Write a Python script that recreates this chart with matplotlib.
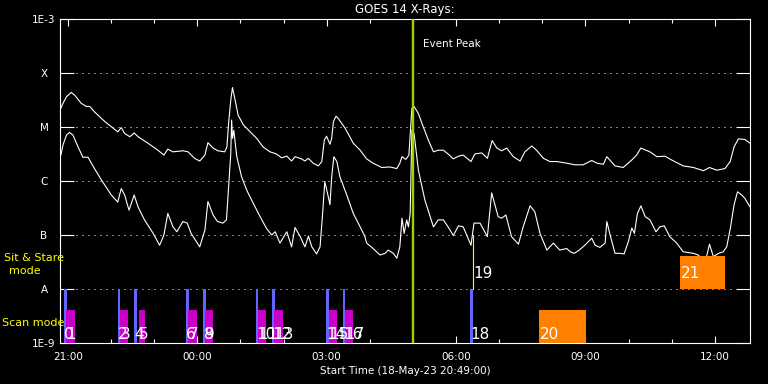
import numpy as np
import matplotlib
matplotlib.use("Agg")
import matplotlib.pyplot as plt
from matplotlib.ticker import FixedLocator, NullLocator
import matplotlib.transforms as mtransforms

# -----------------------------
# data (time = hours after 18-May-23 20:49:00, flux as log10 W/m^2)
# -----------------------------
long_t = [0.02, 0.07, 0.15, 0.26, 0.34, 0.49, 0.61, 0.69, 0.80, 1.04, 1.23, 1.34,
          1.42, 1.50, 1.62, 1.72, 1.81, 2.04, 2.27, 2.41, 2.50, 2.62, 2.85, 2.97,
          3.12, 3.24, 3.36, 3.43, 3.55, 3.66, 3.82, 3.87, 3.91, 3.96, 4.00, 4.06,
          4.13, 4.25, 4.41, 4.56, 4.71, 4.87, 5.02, 5.14, 5.26, 5.37, 5.45, 5.60,
          5.68, 5.76, 5.87, 5.99, 6.07, 6.13, 6.18, 6.26, 6.30, 6.34, 6.40, 6.45,
          6.61, 6.80, 6.96, 7.11, 7.26, 7.46, 7.65, 7.81, 7.88, 7.93, 8.02, 8.09,
          8.16, 8.21, 8.31, 8.42, 8.54, 8.66, 8.77, 8.89, 9.00, 9.12, 9.24, 9.35,
          9.53, 9.62, 9.78, 9.91, 10.02, 10.13, 10.24, 10.36, 10.51, 10.67, 10.78,
          10.94, 11.05, 11.21, 11.36, 11.52, 11.75, 11.94, 12.13, 12.33, 12.45,
          12.60, 12.68, 12.87, 13.06, 13.26, 13.37, 13.47, 13.68, 13.84, 14.03,
          14.18, 14.45, 14.69, 14.92, 15.06, 15.23, 15.42, 15.54, 15.63, 15.73,
          15.88, 16.00]
long_logf = [-4.65, -4.56, -4.44, -4.36, -4.41, -4.56, -4.62, -4.62, -4.72, -4.90,
             -5.02, -5.09, -5.01, -5.12, -5.18, -5.11, -5.18, -5.30, -5.43, -5.52,
             -5.41, -5.46, -5.44, -5.46, -5.58, -5.63, -5.52, -5.29, -5.39, -5.44,
             -5.46, -5.37, -4.93, -4.50, -4.27, -4.50, -4.78, -4.96, -5.09, -5.21,
             -5.37, -5.46, -5.50, -5.57, -5.54, -5.63, -5.55, -5.59, -5.63, -5.58,
             -5.67, -5.72, -5.64, -5.24, -5.17, -5.32, -5.21, -4.90, -4.80, -4.84,
             -5.02, -5.30, -5.43, -5.59, -5.67, -5.75, -5.74, -5.77, -5.67, -5.55,
             -5.60, -5.52, -4.65, -4.62, -4.75, -4.99, -5.24, -5.46, -5.43, -5.43,
             -5.50, -5.59, -5.54, -5.52, -5.64, -5.50, -5.48, -5.58, -5.25, -5.39,
             -5.44, -5.39, -5.55, -5.63, -5.46, -5.35, -5.43, -5.58, -5.64, -5.64,
             -5.67, -5.70, -5.70, -5.62, -5.67, -5.69, -5.55, -5.72, -5.75, -5.61,
             -5.52, -5.39, -5.46, -5.55, -5.54, -5.61, -5.72, -5.75, -5.81, -5.75,
             -5.80, -5.77, -5.64, -5.37, -5.22, -5.23, -5.30]

short_t = [0.02, 0.07, 0.15, 0.22, 0.30, 0.42, 0.53, 0.65, 0.80, 0.96, 1.19, 1.34,
           1.42, 1.50, 1.60, 1.72, 1.81, 1.96, 2.16, 2.31, 2.41, 2.50, 2.62, 2.71,
           2.85, 2.95, 3.04, 3.24, 3.36, 3.43, 3.55, 3.65, 3.78, 3.86, 3.90, 3.96,
           3.98, 4.00, 4.03, 4.10, 4.21, 4.33, 4.48, 4.64, 4.79, 4.91, 4.99, 5.10,
           5.26, 5.37, 5.45, 5.57, 5.68, 5.76, 5.84, 5.95, 6.03, 6.09, 6.14, 6.22,
           6.26, 6.30, 6.35, 6.42, 6.49, 6.65, 6.80, 6.96, 7.07, 7.11, 7.26, 7.42,
           7.54, 7.61, 7.73, 7.81, 7.88, 7.93, 7.98, 8.04, 8.08, 8.12, 8.16, 8.21,
           8.31, 8.46, 8.66, 8.77, 8.89, 9.00, 9.12, 9.24, 9.35, 9.53, 9.60, 9.74,
           9.91, 10.01, 10.16, 10.24, 10.34, 10.47, 10.63, 10.74, 10.90, 11.01,
           11.13, 11.29, 11.44, 11.59, 11.75, 11.83, 11.92, 12.04, 12.17, 12.33,
           12.41, 12.52, 12.64, 12.68, 12.75, 12.87, 12.99, 13.08, 13.18, 13.26,
           13.32, 13.39, 13.47, 13.57, 13.68, 13.82, 13.91, 14.01, 14.14, 14.30,
           14.45, 14.69, 14.80, 14.96, 15.06, 15.15, 15.27, 15.38, 15.46, 15.55,
           15.63, 15.71, 15.81, 15.88, 16.00]
short_logf = [-5.52, -5.33, -5.15, -5.10, -5.15, -5.37, -5.56, -5.56, -5.77, -5.98,
              -6.26, -6.39, -6.14, -6.26, -6.54, -6.26, -6.48, -6.72, -6.97, -7.19,
              -7.00, -6.60, -6.85, -6.94, -6.75, -6.78, -6.97, -7.22, -6.91, -6.38,
              -6.63, -6.75, -6.78, -6.72, -6.23, -5.49, -4.87, -5.21, -5.06, -5.55,
              -5.92, -6.17, -6.41, -6.66, -6.88, -7.00, -6.94, -7.15, -6.94, -7.22,
              -6.86, -7.03, -7.22, -7.02, -7.22, -7.35, -7.22, -6.60, -6.01, -6.29,
              -6.44, -5.92, -5.55, -5.64, -5.92, -6.26, -6.60, -6.85, -7.03, -7.15,
              -7.25, -7.37, -7.34, -7.28, -7.34, -7.43, -7.22, -6.69, -6.97, -6.72,
              -6.85, -6.60, -5.06, -5.12, -5.80, -6.35, -6.85, -6.72, -6.72, -6.85,
              -7.01, -6.83, -6.85, -7.19, -6.78, -6.78, -7.03, -6.22, -6.66, -6.69,
              -6.63, -7.03, -7.17, -6.85, -6.46, -6.57, -6.97, -7.28, -7.15, -7.28,
              -7.25, -7.31, -7.34, -7.28, -7.19, -7.06, -7.19, -7.23, -7.15, -6.75,
              -6.98, -7.34, -7.34, -7.35, -7.12, -6.87, -6.97, -6.60, -6.46, -6.66,
              -6.72, -6.94, -6.85, -6.83, -7.03, -7.15, -7.31, -7.34, -7.37, -7.51,
              -7.17, -7.40, -7.34, -7.31, -7.22, -6.85, -6.44, -6.20, -6.26, -6.32,
              -6.48]

level_vals = [1e-9, 1e-8, 1e-7, 1e-6, 1e-5, 1e-4, 1e-3]
level_labels = ["1E-9", "A", "B", "C", "M", "X", "1E-3"]

time_major = [0.183, 3.183, 6.183, 9.183, 12.183, 15.183]
time_labels = ["21:00", "00:00", "03:00", "06:00", "09:00", "12:00"]
time_minor = [1.183, 2.183, 4.183, 5.183, 7.183, 8.183, 10.183, 11.183,
              13.183, 14.183]

peak_t = 8.18

# observations: start/end hours, kind, row (0 = scan mode, 1 = sit & stare)
obs_start = [0.09, 0.14, 1.34, 1.39, 1.72, 1.83, 2.92, 2.97, 3.32, 3.36, 4.54,
             4.59, 4.92, 4.96, 6.17, 6.24, 6.56, 6.61, 9.51, 9.58, 11.11, 14.38]
obs_end = [0.155, 0.35, 1.40, 1.58, 1.78, 1.97, 2.98, 3.18, 3.38, 3.55, 4.60,
           4.78, 4.98, 5.17, 6.23, 6.42, 6.62, 6.79, 9.58, 9.58, 12.20, 15.42]
obs_kind = ["raster", "scan", "raster", "scan", "raster", "scan", "raster", "scan",
            "raster", "scan", "raster", "scan", "raster", "scan", "raster", "scan",
            "raster", "scan", "raster", "sit", "large", "large"]
obs_row = [0] * 20 + [0, 1]
obs_row[19] = 1

kind_color = {"raster": "#6464ff", "scan": "#c800c8", "large": "#ff8000",
              "sit": "#ffff00"}

# -----------------------------
# figure
# -----------------------------
fig = plt.figure(figsize=(7.68, 3.84), dpi=100, facecolor="black")
ax = fig.add_axes([60 / 768, 41 / 384, 690 / 768, 324 / 384], facecolor="black")

ax.set_yscale("log")
ax.set_xlim(0, 16)
ax.set_ylim(1e-9, 1e-3)

# dotted level lines
trans = mtransforms.blended_transform_factory(ax.transAxes, ax.transData)
for lv in level_vals[1:-1]:
    ax.plot([0.023, 0.978], [lv, lv], transform=trans, color="white",
            lw=0.72, ls=(0, (1, 5)), zorder=1)

# GOES curves
ax.plot(long_t, 10 ** np.array(long_logf), color="white", lw=0.8, zorder=2)
ax.plot(short_t, 10 ** np.array(short_logf), color="white", lw=0.8, zorder=2)

# observation boxes
row_base = [1e-9, 1e-8]
row_label_y = [10 ** -8.926, 10 ** -7.796]
for i in range(len(obs_start)):
    base = row_base[obs_row[i]]
    kind = obs_kind[i]
    if kind == "sit":
        ax.plot([obs_start[i], obs_start[i]], [base, base * 10],
                color=kind_color[kind], lw=0.8, zorder=3)
    else:
        top = base * 10 if kind == "raster" else base * 10 ** 0.61
        ax.bar(obs_start[i], top - base, bottom=base,
               width=obs_end[i] - obs_start[i], align="edge",
               color=kind_color[kind], lw=0, zorder=3)
    ax.text(obs_start[i] + 0.01, row_label_y[obs_row[i]], str(i),
            color="white", fontsize=11, ha="left", va="baseline", zorder=5)

# event peak
ax.axvline(peak_t, color="#a0d000", lw=1.7, zorder=4)
ax.text(8.42, 10 ** -3.52, "Event Peak", color="white", fontsize=7.5,
        ha="left", va="baseline")

# axes styling
for s in ax.spines.values():
    s.set_color("white")
    s.set_linewidth(0.8)

ax.xaxis.set_major_locator(FixedLocator(time_major))
ax.xaxis.set_minor_locator(FixedLocator(time_minor))
ax.set_xticklabels(time_labels)
ax.tick_params(axis="x", which="major", direction="in", length=5, width=0.8,
               top=True, colors="white", labelsize=7.5, pad=6.5)
ax.tick_params(axis="x", which="minor", direction="in", length=3, width=0.8,
               top=True, colors="white")

ax.yaxis.set_major_locator(FixedLocator(level_vals))
ax.yaxis.set_minor_locator(NullLocator())
ax.set_yticklabels(level_labels)
ax.tick_params(axis="y", which="major", direction="in", length=10, width=0.8,
               right=True, colors="white", labelsize=7.5, pad=11.5)
for lab in ax.get_yticklabels():
    lab.set_horizontalalignment("center")

ax.set_xlabel("Start Time (18-May-23 20:49:00)", color="white", fontsize=7.5,
              labelpad=3)
ax.set_title("GOES 14 X-Rays:", color="white", fontsize=8.5, pad=4)

fig.text(34.5 / 768, 1 - 258 / 384, "Sit & Stare", color="#ffff00", fontsize=8,
         ha="center", va="center")
fig.text(24.5 / 768, 1 - 271 / 384, "mode", color="#ffff00", fontsize=8,
         ha="center", va="center")
fig.text(2 / 768, 1 - 323 / 384, "Scan mode", color="#ffff00", fontsize=8,
         ha="left", va="center")

fig.savefig("out.png", dpi=100, facecolor="black")
